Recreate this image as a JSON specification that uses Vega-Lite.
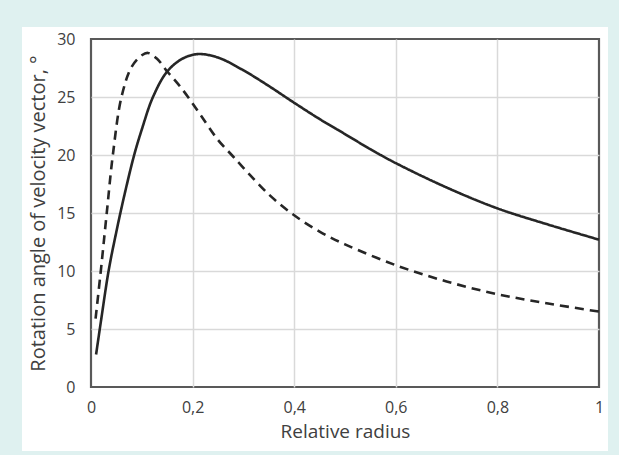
{
  "$schema": "https://vega.github.io/schema/vega-lite/v6.json",
  "width": 508,
  "height": 348,
  "autosize": {"type": "none"},
  "padding": {"left": 91, "top": 39, "right": 20, "bottom": 68},
  "background": "#ffffff",
  "data": {"values": [{}]},
  "config": {
    "view": {"stroke": "#595959", "strokeWidth": 2.2},
    "font": "Open Sans",
    "axis": {
      "labelFont": "Open Sans",
      "titleFont": "Open Sans",
      "labelColor": "#404040",
      "titleColor": "#404040",
      "labelFontSize": 16,
      "titleFontSize": 19,
      "titleFontWeight": "normal",
      "ticks": false,
      "domain": false,
      "grid": true,
      "gridWidth": 1.5
    }
  },
  "datasets": {
    "curves": [
      {"r": 0.01, "angle": 2.8, "series": "solid"},
      {"r": 0.02, "angle": 5.8, "series": "solid"},
      {"r": 0.035, "angle": 10.1, "series": "solid"},
      {"r": 0.05, "angle": 13.4, "series": "solid"},
      {"r": 0.065, "angle": 16.4, "series": "solid"},
      {"r": 0.085, "angle": 20.0, "series": "solid"},
      {"r": 0.1, "angle": 22.2, "series": "solid"},
      {"r": 0.122, "angle": 25.0, "series": "solid"},
      {"r": 0.15, "angle": 27.2, "series": "solid"},
      {"r": 0.18, "angle": 28.3, "series": "solid"},
      {"r": 0.21, "angle": 28.7, "series": "solid"},
      {"r": 0.25, "angle": 28.4, "series": "solid"},
      {"r": 0.3, "angle": 27.3, "series": "solid"},
      {"r": 0.35, "angle": 25.95, "series": "solid"},
      {"r": 0.4, "angle": 24.5, "series": "solid"},
      {"r": 0.45, "angle": 23.1, "series": "solid"},
      {"r": 0.5, "angle": 21.8, "series": "solid"},
      {"r": 0.55, "angle": 20.5, "series": "solid"},
      {"r": 0.6, "angle": 19.3, "series": "solid"},
      {"r": 0.7, "angle": 17.2, "series": "solid"},
      {"r": 0.8, "angle": 15.4, "series": "solid"},
      {"r": 0.9, "angle": 14.0, "series": "solid"},
      {"r": 1.0, "angle": 12.7, "series": "solid"},
      {"r": 0.009, "angle": 5.9, "series": "dashed"},
      {"r": 0.02, "angle": 10.3, "series": "dashed"},
      {"r": 0.031, "angle": 15.0, "series": "dashed"},
      {"r": 0.043, "angle": 20.0, "series": "dashed"},
      {"r": 0.06, "angle": 25.0, "series": "dashed"},
      {"r": 0.08, "angle": 27.6, "series": "dashed"},
      {"r": 0.1, "angle": 28.6, "series": "dashed"},
      {"r": 0.112, "angle": 28.8, "series": "dashed"},
      {"r": 0.13, "angle": 28.3, "series": "dashed"},
      {"r": 0.15, "angle": 27.2, "series": "dashed"},
      {"r": 0.17, "angle": 26.2, "series": "dashed"},
      {"r": 0.191, "angle": 25.0, "series": "dashed"},
      {"r": 0.215, "angle": 23.5, "series": "dashed"},
      {"r": 0.25, "angle": 21.3, "series": "dashed"},
      {"r": 0.277, "angle": 20.0, "series": "dashed"},
      {"r": 0.3, "angle": 18.9, "series": "dashed"},
      {"r": 0.35, "angle": 16.6, "series": "dashed"},
      {"r": 0.4, "angle": 14.8, "series": "dashed"},
      {"r": 0.45, "angle": 13.4, "series": "dashed"},
      {"r": 0.5, "angle": 12.3, "series": "dashed"},
      {"r": 0.6, "angle": 10.5, "series": "dashed"},
      {"r": 0.7, "angle": 9.1, "series": "dashed"},
      {"r": 0.8, "angle": 8.0, "series": "dashed"},
      {"r": 0.9, "angle": 7.2, "series": "dashed"},
      {"r": 1.0, "angle": 6.5, "series": "dashed"}
    ]
  },
  "layer": [
    {
      "mark": {"type": "rect", "fill": "#dff1f0", "strokeWidth": 0},
      "encoding": {
        "x": {
          "datum": -0.18,
          "type": "quantitative",
          "scale": {"domain": [0, 1], "nice": false, "zero": false},
          "axis": {
            "title": "Relative radius",
            "grid": true,
            "values": [0, 0.2, 0.4, 0.6, 0.8, 1],
            "labelExpr": "replace(format(datum.value, '~g'), '.', ',')",
            "labelPadding": 12,
            "labelFlush": false,
            "titleY": 44,
            "titleBaseline": "middle",
            "gridColor": {"condition": {"test": "datum.value == 0 || datum.value == 1", "value": "transparent"}, "value": "#d9d9d9"}
          }
        },
        "x2": {"datum": -0.1358},
        "y": {
          "datum": -5.9,
          "type": "quantitative",
          "scale": {"domain": [0, 30], "nice": false},
          "axis": {
            "title": "Rotation angle of velocity vector, °",
            "grid": true,
            "titleFontSize": 20,
            "values": [0, 5, 10, 15, 20, 25, 30],
            "labelPadding": 16,
            "labelFlush": false,
            "titleX": -53,
            "titleY": 174,
            "titleAngle": 270,
            "titleAlign": "center",
            "titleBaseline": "middle",
            "gridColor": {"condition": {"test": "datum.value == 0 || datum.value == 30", "value": "transparent"}, "value": "#d9d9d9"}
          }
        },
        "y2": {"datum": 33.4}
      }
    },
    {
      "mark": {"type": "rect", "fill": "#dff1f0", "strokeWidth": 0},
      "encoding": {
        "x": {"datum": 1.0177, "type": "quantitative"},
        "x2": {"datum": 1.045},
        "y": {"datum": -5.9, "type": "quantitative"},
        "y2": {"datum": 33.4}
      }
    },
    {
      "mark": {"type": "rect", "fill": "#dff1f0", "strokeWidth": 0},
      "encoding": {
        "x": {"datum": -0.18, "type": "quantitative"},
        "x2": {"datum": 1.045},
        "y": {"datum": 31.03, "type": "quantitative"},
        "y2": {"datum": 33.4}
      }
    },
    {
      "mark": {"type": "rect", "fill": "#dff1f0", "strokeWidth": 0},
      "encoding": {
        "x": {"datum": -0.18, "type": "quantitative"},
        "x2": {"datum": 1.045},
        "y": {"datum": -5.9, "type": "quantitative"},
        "y2": {"datum": -5.517}
      }
    },
    {
      "data": {"name": "curves"},
      "mark": {"type": "line", "interpolate": "catmull-rom", "strokeWidth": 2.6, "color": "#262626"},
      "encoding": {
        "x": {"field": "r", "type": "quantitative"},
        "y": {"field": "angle", "type": "quantitative"},
        "detail": {"field": "series", "type": "nominal"},
        "strokeDash": {
          "field": "series",
          "type": "nominal",
          "scale": {"domain": ["solid", "dashed"], "range": [[1, 0], [9, 6]]},
          "legend": null
        }
      }
    }
  ]
}
